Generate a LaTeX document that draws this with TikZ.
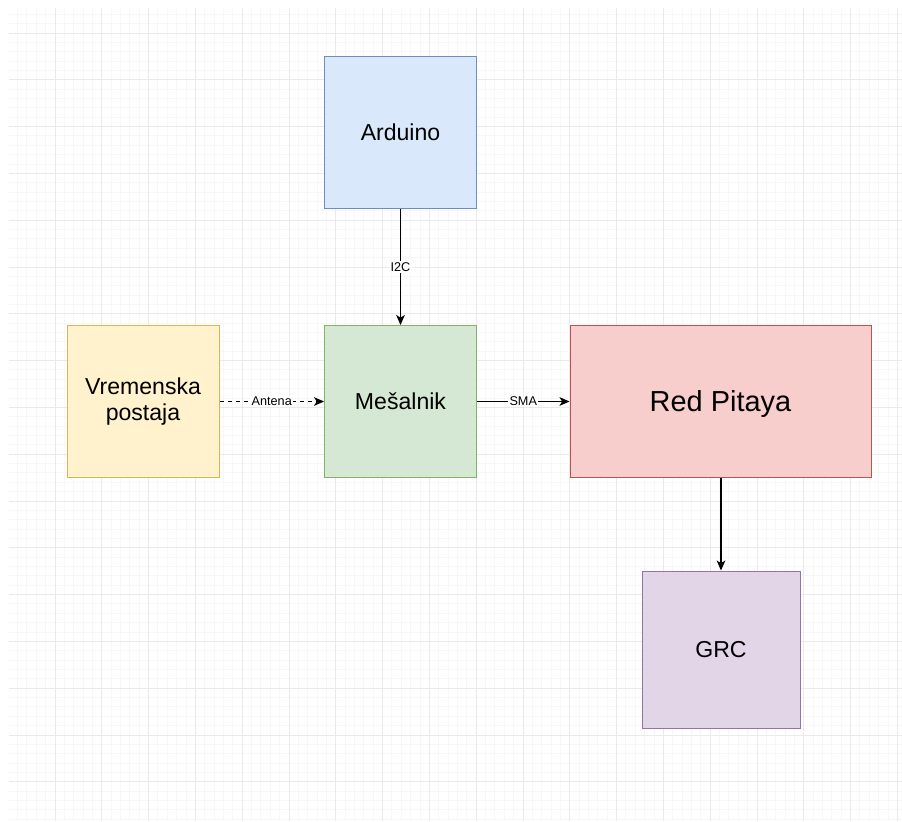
\documentclass[tikz,border=0pt]{standalone}
\usepackage{fontspec}
\setmainfont{Liberation Sans}
\usetikzlibrary{arrows.meta}
\definecolor{gridminor}{HTML}{F7F7F7}
\definecolor{gridmajor}{HTML}{EAEAEA}
\definecolor{blueF}{HTML}{DAE8FC}\definecolor{blueD}{HTML}{6C8EBF}
\definecolor{yelF}{HTML}{FFF2CC}\definecolor{yelD}{HTML}{D6B656}
\definecolor{grnF}{HTML}{D5E8D4}\definecolor{grnD}{HTML}{82B366}
\definecolor{redF}{HTML}{F8CECC}\definecolor{redD}{HTML}{B85450}
\definecolor{purF}{HTML}{E1D5E7}\definecolor{purD}{HTML}{9673A6}
\tikzset{
  box/.style={draw, line width=0.75pt, minimum width=114pt, minimum height=114pt,
    align=center, inner sep=2pt, font=\fontsize{17.3}{20}\selectfont},
  conn/.style={line width=0.9pt, -{Stealth[length=7.5pt,width=6.5pt,inset=2pt]}},
  elabel/.style={fill=white, inner sep=1pt, font=\fontsize{9.5}{11}\selectfont}
}
\begin{document}
\begin{tikzpicture}[x=0.75pt,y=-0.75pt]
\useasboundingbox (0,0) rectangle (902,821);
\fill[white] (0,0) rectangle (902,821);
\begin{scope}
\clip (9,8) rectangle (902,821);
\foreach \i in {-5,...,92} {
  \draw[gridminor, line width=0.75pt] ({55+9.36*\i},8) -- ({55+9.36*\i},821);
  \draw[gridminor, line width=0.75pt] (9,{33+9.36*\i}) -- (902,{33+9.36*\i});
}
\foreach \i in {-1,...,19} {
  \draw[gridmajor, line width=0.75pt] ({55+46.8*\i},8) -- ({55+46.8*\i},821);
  \draw[gridmajor, line width=0.75pt] (9,{33+46.8*\i}) -- (902,{33+46.8*\i});
}
\end{scope}

\node[box, fill=blueF, draw=blueD] (ard) at (400.5,132.5) {Arduino};
\node[box, fill=grnF, draw=grnD] (mes) at (400.5,401.5) {Mešalnik};
\node[box, fill=yelF, draw=yelD] (vre) at (143,401.5) {Vremenska\\postaja};
\node[box, fill=redF, draw=redD, minimum width=225.75pt, text height=20pt,
  font=\fontsize{21.7}{25}\selectfont] (red) at (720.5,401.5) {Red Pitaya};
\node[box, fill=purF, draw=purD, minimum width=118.5pt, minimum height=117.75pt] (grc) at (721,649.5) {GRC};

\draw[conn] (ard) -- node[elabel] {I2C} (mes);
\draw[conn, dashed] (vre) -- node[elabel] {Antena} (mes);
\draw[conn] (mes) -- node[elabel] {SMA} (red);
\draw[conn] (red.south -| grc.north) -- (grc.north);
\end{tikzpicture}
\end{document}
